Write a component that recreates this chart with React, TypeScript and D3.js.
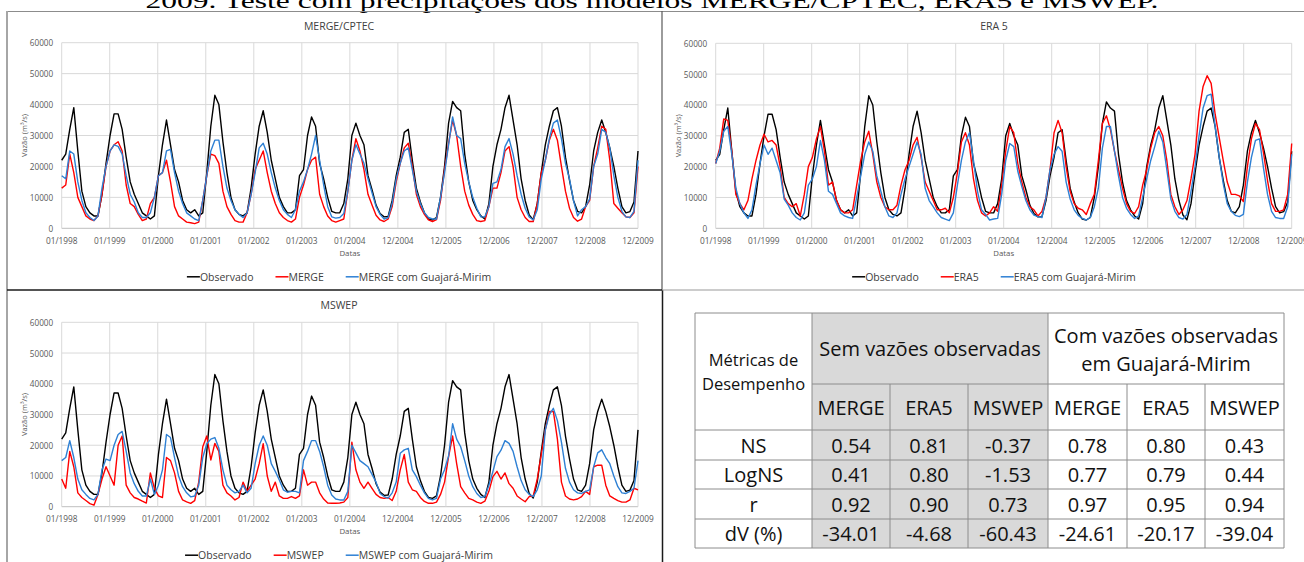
import React from 'react';
import * as d3 from 'd3';

// ---------- DATA ----------
const xTickLabels = ['01/1998', '01/1999', '01/2000', '01/2001', '01/2002', '01/2003', '01/2004', '12/2004', '12/2005', '12/2006', '12/2007', '12/2008', '12/2009'];
const yTicks = [0, 10000, 20000, 30000, 40000, 50000, 60000];

// monthly values, Jan/1998 .. Dec/2009
const observado = [
  22000, 24000, 32000, 39000, 25000, 12000, 7000, 5000, 4000, 4000, 11000, 21000,
  30000, 37000, 37000, 32000, 23000, 15000, 11000, 8000, 5000, 4000, 3000, 4000,
  17000, 27000, 35000, 27000, 19000, 15000, 9000, 6000, 5000, 6000, 4000, 5000,
  18000, 33000, 43000, 40000, 28000, 18000, 10000, 6000, 4500, 4000, 5000, 13000,
  24000, 33000, 38000, 31000, 22000, 16000, 10000, 7000, 5000, 5000, 6000, 17000,
  19000, 30000, 36000, 33000, 21000, 16000, 10000, 5500, 5000, 5000, 8000, 16000,
  30000, 34000, 30000, 27000, 17000, 12500, 7500, 4800, 3700, 3800, 9000, 17000,
  23000, 31000, 32000, 22000, 13000, 8500, 5000, 3000, 2700, 3500, 10000, 20000,
  34000, 41000, 39000, 38000, 24000, 15000, 9000, 6000, 4000, 3000, 8000, 20000,
  27000, 32000, 39000, 43000, 35000, 27000, 16000, 9000, 4300, 2800, 8000, 18000,
  27000, 33000, 38000, 39000, 33000, 23000, 15600, 9000, 5500, 5000, 7000, 14000,
  25000, 31000, 35000, 31000, 26000, 20000, 13000, 7000, 5000, 5400, 8500, 25000,
];
const merge = [
  13000, 14000, 24000, 18000, 10000, 7000, 4000, 3000, 2500, 4000, 11000, 20000,
  25000, 27000, 28000, 25000, 14000, 8000, 7000, 4500, 2500, 3000, 8000, 10000,
  17000, 18000, 22000, 15000, 7000, 4000, 3000, 2000, 1800, 1500, 2000, 9000,
  17000, 24000, 23500, 21000, 12000, 7000, 4500, 2500, 2000, 2000, 5000, 11000,
  19000, 22000, 25000, 18000, 12000, 8000, 5000, 3500, 2500, 2000, 3000, 10000,
  14000, 19000, 22000, 23000, 11000, 7000, 4000, 2500, 2000, 2500, 3000, 12000,
  22000, 29000, 25000, 19000, 11000, 7500, 4200, 2700, 2200, 3000, 7000, 15000,
  21000, 26000, 27500, 20000, 11000, 7000, 4500, 2700, 2200, 2800, 9000, 19000,
  27500, 35000, 30000, 20000, 12000, 7500, 4500, 2500, 2200, 2500, 7000, 13000,
  13000, 18000, 25000, 26400, 20000, 10000, 6000, 3500, 2200, 2200, 8000, 18000,
  22000, 28500, 32000, 28500, 20000, 12000, 6500, 3500, 2300, 3000, 7000, 9000,
  20000, 26000, 33000, 32000, 22000, 8000, 6500, 5000, 3700, 3500, 5000, 20000,
];
const mergeGM = [
  17000, 16000, 25000, 24000, 15000, 9000, 5000, 3500, 2500, 4000, 13000, 20000,
  25000, 27000, 26500, 24000, 17000, 11000, 8500, 5000, 3500, 3500, 5000, 10000,
  17000, 18000, 25000, 25500, 18000, 12000, 8000, 5000, 4000, 3000, 2500, 9000,
  17000, 25000, 28500, 28500, 20000, 13000, 9000, 6000, 4500, 3500, 5000, 11000,
  18000, 26000, 27500, 24000, 18000, 13000, 9000, 6000, 4500, 3500, 6000, 12000,
  15000, 19000, 24000, 30000, 22000, 14000, 7000, 3700, 3300, 3500, 4800, 12000,
  22000, 27000, 24000, 21000, 16000, 11500, 7000, 4500, 3000, 3500, 8000, 16000,
  21000, 25000, 26000, 19000, 12000, 8000, 5000, 3500, 3000, 3000, 10000, 18000,
  27000, 36000, 30000, 29000, 21000, 15000, 10000, 6500, 3700, 3700, 7000, 14500,
  15000, 19000, 26400, 29000, 24000, 17000, 11000, 6500, 3700, 2700, 6000, 16000,
  22000, 29000, 34000, 35000, 29000, 21000, 16000, 9000, 4000, 6000, 7000, 9500,
  20000, 24000, 32000, 31000, 26000, 17000, 10000, 5500, 3700, 3500, 5500, 22000,
];
const era5 = [
  21000, 26000, 35500, 35000, 25000, 11000, 8000, 6000, 9000, 16000, 22000, 27000,
  30500, 28000, 28500, 27000, 20000, 10000, 8000, 7000, 8000, 4000, 11000, 20000,
  23000, 29000, 33000, 25000, 14000, 15000, 9000, 6000, 5000, 5000, 6000, 14000,
  22000, 28000, 31500, 24000, 15000, 10000, 7000, 6000, 6000, 7500, 14000, 19000,
  22000, 27000, 29500, 23000, 15000, 12000, 9000, 6000, 6000, 6500, 5000, 10000,
  18000, 28000, 31000, 27000, 16000, 9000, 5000, 4000, 5000, 7000, 5500, 14000,
  25000, 33000, 31000, 21000, 15000, 10000, 7000, 6000, 4000, 5500, 10000, 19000,
  31000, 35000, 31000, 20000, 12000, 8000, 6500, 6000, 4500, 8000, 11000, 22000,
  34000, 36500, 32000, 25000, 19000, 13000, 8000, 5500, 4800, 7000, 14000, 19000,
  26000, 31000, 33000, 30000, 22000, 11000, 7000, 4500, 6000, 9000, 16000, 24000,
  38000, 46000, 49500, 47000, 37000, 29500, 22000, 15000, 11000, 11000, 10500, 8700,
  20000, 29000, 34000, 32000, 24500, 15500, 8000, 5500, 5500, 6000, 11000, 27500,
];
const era5GM = [
  21000, 25000, 31500, 33000, 24000, 13000, 8000, 5000, 3200, 6000, 14000, 21000,
  27000, 24000, 26000, 22000, 18000, 9500, 7500, 5000, 3500, 2700, 5000, 14000,
  16000, 20000, 28500, 22000, 12000, 11000, 8000, 5000, 4000, 3500, 3200, 10000,
  17000, 24000, 28000, 25000, 17000, 12000, 7000, 4000, 3500, 5000, 11000, 16000,
  20000, 24000, 28000, 24000, 13000, 9000, 7000, 5000, 3500, 3000, 2500, 5000,
  14000, 22000, 28000, 31000, 22000, 12000, 6000, 4500, 2700, 3000, 3200, 11000,
  22000, 27500, 26500, 18500, 13500, 9000, 6000, 4300, 3800, 3500, 10000, 19000,
  24000, 26500, 25000, 15000, 9500, 6000, 4200, 3200, 2700, 3500, 7000, 13000,
  26000, 33000, 33000, 25000, 17000, 10000, 6500, 4500, 3200, 4000, 10000, 16000,
  22000, 26500, 31500, 28000, 19000, 9500, 5500, 3500, 3000, 4500, 12000, 20000,
  30000, 39000, 43000, 43500, 33000, 23000, 14500, 8000, 5500, 4200, 3800, 4500,
  15000, 23000, 28500, 29000, 19500, 11000, 5500, 3500, 3200, 3200, 7000, 24000,
];
const mswep = [
  9000, 6000, 18000, 13000, 4500, 3000, 2000, 1000, 500, 4000, 9000, 13000,
  10000, 7000, 20000, 23000, 7000, 4500, 3000, 2500, 1800, 1200, 11000, 6000,
  3500, 3000, 16000, 15000, 11000, 5000, 2200, 1600, 1100, 2000, 8000, 19500,
  23000, 15200, 20600, 18000, 7000, 4500, 3500, 2200, 3000, 8000, 5000, 7000,
  9000, 14000, 20500, 10000, 5000, 8000, 3500, 2700, 2700, 3300, 2700, 3500,
  12000, 7000, 8000, 8000, 4500, 2500, 1200, 1100, 1100, 1200, 1500, 3000,
  21000, 12000, 8000, 6000, 8000, 6000, 4000, 3000, 2700, 3000, 2000, 5000,
  12000, 17000, 8000, 5500, 5000, 3000, 1700, 1100, 1100, 1500, 4000, 8000,
  16300, 23000, 14000, 6500, 4500, 2700, 2200, 1500, 1100, 1800, 5000, 9800,
  11500, 9000, 11000, 7500, 6000, 3500, 2500, 1600, 3300, 3500, 9000, 17000,
  25000, 31000, 31000, 22000, 8000, 3500, 2500, 2200, 2500, 3300, 5000, 4000,
  13000, 13500, 13500, 7000, 3500, 2700, 2000, 1500, 1500, 2200, 6000, 5500,
];
const mswepGM = [
  15000, 16000, 21500, 16000, 9000, 5500, 4000, 2700, 2200, 4000, 12000, 15500,
  15000, 20000, 23500, 24500, 18000, 11000, 7500, 5000, 3500, 3500, 9000, 4000,
  7000, 12000, 23500, 22500, 16000, 10000, 6500, 4500, 3200, 3500, 7000, 16000,
  20500, 22000, 22500, 19000, 12000, 7000, 5500, 4500, 5000, 7000, 4500, 6000,
  14000, 20000, 23000, 20000, 14000, 11500, 8700, 5500, 4700, 5000, 5000, 4500,
  15000, 18000, 21500, 21500, 18000, 13000, 7000, 3800, 2500, 2200, 2200, 5000,
  20000, 17500, 15000, 14000, 13000, 10500, 8000, 4300, 3300, 2800, 4500, 8000,
  17400, 18500, 19000, 12000, 9800, 7000, 4500, 2700, 2200, 2700, 9000, 12000,
  16500, 27000, 22000, 19500, 15000, 10000, 6500, 4300, 3000, 3300, 7000, 11500,
  16300, 18400, 21500, 20600, 18000, 13000, 8500, 5500, 4000, 3300, 5500, 10000,
  25000, 30000, 32000, 28000, 21000, 12500, 8000, 5500, 4500, 4300, 5000, 5500,
  13000, 17500, 18500, 16000, 14000, 10000, 6500, 4500, 4300, 5000, 6000, 15000,
];

const tableMetrics = ['NS', 'LogNS', 'r', 'dV (%)'];
const tableModels = ['MERGE', 'ERA5', 'MSWEP'];
const semVazoes = [
  ['0.54', '0.81', '-0.37'],
  ['0.41', '0.80', '-1.53'],
  ['0.92', '0.90', '0.73'],
  ['-34.01', '-4.68', '-60.43'],
];
const comVazoes = [
  ['0.78', '0.80', '0.43'],
  ['0.77', '0.79', '0.44'],
  ['0.97', '0.95', '0.94'],
  ['-24.61', '-20.17', '-39.04'],
];

// ---------- STYLE ----------
const FONT = "'Open Sans', sans-serif";
const BLACK = '#000000';
const RED = '#ff0000';
const BLUE = '#2e80d4';
const GRID = '#d9d9d9';

let measureCtx: CanvasRenderingContext2D | null = null;
function measure(text: string, size: number): number {
  if (!measureCtx && typeof document !== 'undefined') {
    measureCtx = document.createElement('canvas').getContext('2d');
  }
  if (!measureCtx) return text.length * size * 0.55;
  measureCtx.font = `${size}px 'Open Sans'`;
  return measureCtx.measureText(text).width;
}

type ChartProps = {
  title: string;
  modelLabel: string;
  dataModel: number[];
  dataGM: number[];
  left: number;
  right: number;
  top: number;
  bottom: number;
  cx: number;
};

function Chart({ title, modelLabel, dataModel, dataGM, left, right, top, bottom, cx }: ChartProps) {
  const n = observado.length;
  const x = d3.scaleLinear().domain([0, n - 1]).range([left, right]);
  const y = d3.scaleLinear().domain([0, 60000]).range([bottom, top]);
  const step = (n - 1) / (xTickLabels.length - 1);
  const line = d3.line<number>().x((_, i) => x(i)).y((d) => y(d)).curve(d3.curveLinear);

  const legendItems = [
    { label: 'Observado', color: BLACK },
    { label: modelLabel, color: RED },
    { label: `${modelLabel} com Guajará-Mirim`, color: BLUE },
  ];
  const LS = 10.5;
  const LINE = 13;
  const GAP = 22;
  const widths = legendItems.map((it) => LINE + measure(it.label, LS));
  const total = widths.reduce((a, b) => a + b, 0) + GAP * (widths.length - 1);
  let cur = cx - total / 2;
  const starts = widths.map((w) => {
    const p = cur;
    cur += w + GAP;
    return p;
  });
  const legendY = bottom + 48.5;

  return (
    <g>
      <text x={cx} y={top - 17} textAnchor="middle" dominantBaseline="central" fontFamily={FONT} fontSize={10.5} fill="#404040">
        {title}
      </text>
      {yTicks.map((t) => (
        <line key={`h${t}`} x1={left} x2={right} y1={y(t)} y2={y(t)} stroke={t === 0 ? '#bfbfbf' : GRID} strokeWidth={1} />
      ))}
      {xTickLabels.map((lab, k) => (
        <line key={`v${lab}`} x1={x(k * step)} x2={x(k * step)} y1={top} y2={bottom} stroke={GRID} strokeWidth={1} />
      ))}
      {yTicks.map((t) => (
        <text key={`yl${t}`} x={left - 8.5} y={y(t)} textAnchor="end" dominantBaseline="central" fontFamily={FONT} fontSize={8.2} fill="#595959">
          {t}
        </text>
      ))}
      {xTickLabels.map((lab, k) => (
        <text key={`xl${lab}`} x={x(k * step)} y={bottom + 12} textAnchor="middle" dominantBaseline="central" fontFamily={FONT} fontSize={8.3} fill="#595959">
          {lab}
        </text>
      ))}
      <text x={(left + right) / 2} y={bottom + 24.5} textAnchor="middle" dominantBaseline="central" fontFamily={FONT} fontSize={7.8} fill="#595959">
        Datas
      </text>
      <text
        transform={`translate(${left - 38},${(top + bottom) / 2}) rotate(-90)`}
        textAnchor="middle"
        dominantBaseline="central"
        fontFamily={FONT}
        fontSize={7.5}
        fill="#595959"
      >
        Vazão (m³/s)
      </text>
      <path d={line(observado) || ''} fill="none" stroke={BLACK} strokeWidth={1.4} strokeLinejoin="round" />
      <path d={line(dataModel) || ''} fill="none" stroke={RED} strokeWidth={1.4} strokeLinejoin="round" />
      <path d={line(dataGM) || ''} fill="none" stroke={BLUE} strokeWidth={1.4} strokeLinejoin="round" />
      {legendItems.map((it, i) => (
        <g key={it.label}>
          <line x1={starts[i]} x2={starts[i] + LINE} y1={legendY} y2={legendY} stroke={it.color} strokeWidth={1.5} />
          <text x={starts[i] + LINE} y={legendY} dominantBaseline="central" fontFamily={FONT} fontSize={LS} fill="#404040">
            {it.label}
          </text>
        </g>
      ))}
    </g>
  );
}

function MetricsTable() {
  const colX = [695, 812, 890, 968, 1048, 1127, 1205, 1284];
  const rowY = [313, 384, 430, 460, 489, 519, 548];
  const LC = '#8c8c8c';
  const TS = 20;
  const mid = (a: number, b: number) => (a + b) / 2;
  const allCols = [...tableModels, ...tableModels];
  return (
    <g fontFamily={FONT} fill="#111">
      <rect x={colX[1]} y={rowY[0]} width={colX[4] - colX[1]} height={rowY[6] - rowY[0]} fill="#d9d9d9" />
      <line x1={colX[0]} x2={colX[7]} y1={rowY[0]} y2={rowY[0]} stroke={LC} />
      <line x1={colX[1]} x2={colX[7]} y1={rowY[1]} y2={rowY[1]} stroke={LC} />
      {rowY.slice(2).map((yy) => (
        <line key={`r${yy}`} x1={colX[0]} x2={colX[7]} y1={yy} y2={yy} stroke={LC} />
      ))}
      {[0, 1, 4, 7].map((c) => (
        <line key={`c${c}`} x1={colX[c]} x2={colX[c]} y1={rowY[0]} y2={rowY[6]} stroke={LC} />
      ))}
      {[2, 3, 5, 6].map((c) => (
        <line key={`cs${c}`} x1={colX[c]} x2={colX[c]} y1={rowY[1]} y2={rowY[6]} stroke={LC} />
      ))}
      <text x={mid(colX[0], colX[1])} y={mid(rowY[0], rowY[2]) - 12} textAnchor="middle" dominantBaseline="central" fontSize={16.5}>
        Métricas de
      </text>
      <text x={mid(colX[0], colX[1])} y={mid(rowY[0], rowY[2]) + 12} textAnchor="middle" dominantBaseline="central" fontSize={16.5}>
        Desempenho
      </text>
      <text x={mid(colX[1], colX[4])} y={mid(rowY[0], rowY[1])} textAnchor="middle" dominantBaseline="central" fontSize={TS}>
        Sem vazões observadas
      </text>
      <text x={mid(colX[4], colX[7])} y={mid(rowY[0], rowY[1]) - 13} textAnchor="middle" dominantBaseline="central" fontSize={TS}>
        Com vazões observadas
      </text>
      <text x={mid(colX[4], colX[7])} y={mid(rowY[0], rowY[1]) + 15} textAnchor="middle" dominantBaseline="central" fontSize={TS}>
        em Guajará-Mirim
      </text>
      {allCols.map((m, i) => (
        <text key={`m${i}`} x={mid(colX[i + 1], colX[i + 2])} y={mid(rowY[1], rowY[2])} textAnchor="middle" dominantBaseline="central" fontSize={TS}>
          {m}
        </text>
      ))}
      {tableMetrics.map((metric, r) => (
        <g key={metric}>
          <text x={mid(colX[0], colX[1])} y={mid(rowY[r + 2], rowY[r + 3])} textAnchor="middle" dominantBaseline="central" fontSize={TS}>
            {metric}
          </text>
          {[...semVazoes[r], ...comVazoes[r]].map((v, c) => (
            <text key={`${metric}${c}`} x={mid(colX[c + 1], colX[c + 2])} y={mid(rowY[r + 2], rowY[r + 3])} textAnchor="middle" dominantBaseline="central" fontSize={TS}>
              {v}
            </text>
          ))}
        </g>
      ))}
    </g>
  );
}

export default function App() {
  return (
    <svg
      width={1304}
      height={562}
      viewBox="0 0 1304 562"
      style={{ position: 'absolute', left: 0, top: 0, background: '#ffffff' }}
      xmlns="http://www.w3.org/2000/svg"
    >
      <rect x={0} y={0} width={1304} height={562} fill="#ffffff" />
      <text
        x={652}
        y={7.5}
        textAnchor="middle"
        fontFamily="'Liberation Serif', 'Times New Roman', serif"
        fontSize={21}
        fill="#000"
        textLength={1013}
        lengthAdjust="spacingAndGlyphs"
      >
        2009. Teste com precipitações dos modelos MERGE/CPTEC, ERA5 e MSWEP.
      </text>
      <line x1={7} x2={1304} y1={11.5} y2={11.5} stroke="#8c8c8c" strokeWidth={1} />
      <line x1={7} x2={7} y1={11} y2={562} stroke="#a6a6a6" strokeWidth={2} />
      <line x1={662} x2={662} y1={11} y2={290} stroke="#595959" strokeWidth={1.2} />
      <line x1={662.5} x2={662.5} y1={290} y2={562} stroke="#1a1a1a" strokeWidth={1.5} />
      <line x1={7} x2={662} y1={290} y2={290} stroke="#1a1a1a" strokeWidth={1.5} />
      <line x1={662} x2={1304} y1={290} y2={290} stroke="#9a9a9a" strokeWidth={1.2} />

      <Chart title="MERGE/CPTEC" modelLabel="MERGE" dataModel={merge} dataGM={mergeGM} left={61.7} right={638} top={42.7} bottom={228.3} cx={339} />
      <Chart title="ERA 5" modelLabel="ERA5" dataModel={era5} dataGM={era5GM} left={715.7} right={1291.7} top={43.3} bottom={228.3} cx={994} />
      <Chart title="MSWEP" modelLabel="MSWEP" dataModel={mswep} dataGM={mswepGM} left={61.7} right={638} top={322.3} bottom={506.7} cx={339} />
      <MetricsTable />
    </svg>
  );
}
